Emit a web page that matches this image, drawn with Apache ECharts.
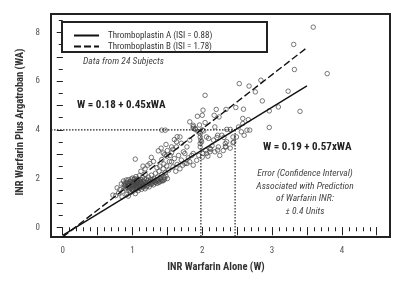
<!DOCTYPE html>
<html>
<head>
<meta charset="utf-8">
<script src="https://cdn.jsdelivr.net/npm/echarts@6/dist/echarts.min.js"></script>
<style>
  html, body { margin: 0; padding: 0; background: #fff; }
  #chart { width: 400px; height: 285px; }
</style>
</head>
<body>
<div id="chart"></div>
<script>
// scatter: [INR warfarin alone (W), INR warfarin plus argatroban (WA)]
var points = [
  [3.59,8.22],[3.31,7.51],[3.32,6.48],[3.79,6.31],[2.53,5.90],[2.67,5.80],[2.84,6.04],[2.76,5.56],
  [3.23,5.59],[3.09,4.94],[3.40,4.76],[2.96,4.78],[2.86,5.19],[2.04,5.42],[2.01,4.81],[1.93,4.56],
  [2.20,4.84],[2.34,4.84],[2.48,4.92],[2.59,4.85],[2.17,4.60],[2.24,4.53],[2.58,4.47],[2.66,4.42],
  [2.00,4.60],[2.58,4.26],[2.18,4.12],[2.35,4.02],[2.40,4.02],[2.64,3.99],[2.68,3.99],[2.56,3.92],
  [2.96,4.10],[2.49,3.71],[2.60,3.78],[2.31,3.69],[2.21,3.69],[2.44,3.47],[2.33,3.31],[2.12,3.20],
  [2.22,3.17],[2.06,3.03],[1.87,4.13],[1.90,4.02],[1.64,3.72],[1.47,3.99],[1.42,3.99],[1.04,2.80],
  [1.54,2.95],
  [0.78,1.62],[0.82,1.55],[0.84,1.78],[0.86,1.48],[0.88,1.66],[0.87,1.90],[0.90,1.58],[0.90,1.72],
  [0.92,1.35],[0.92,1.85],[0.93,1.62],[0.94,1.95],[0.95,1.52],[0.95,1.70],[0.96,1.80],[0.97,1.42],
  [0.97,1.62],[0.98,1.88],[0.99,1.55],[0.99,1.74],[1.00,1.66],[1.00,2.02],[1.01,1.48],[1.01,1.82],
  [1.02,1.60],[1.02,1.95],[1.03,1.72],[1.04,1.38],[1.04,1.88],[1.05,1.55],[1.05,2.08],[1.06,1.68],
  [1.06,1.80],[1.07,1.62],[1.07,1.98],[1.08,1.50],[1.08,1.90],[1.09,1.74],[1.10,1.60],[1.10,2.12],
  [1.11,1.85],[1.12,1.68],[1.12,1.96],[1.13,1.56],[1.14,1.78],[1.14,2.05],[1.15,1.64],[1.16,1.90],
  [1.17,1.72],[1.18,2.18],[1.18,1.58],[1.19,1.84],[1.20,1.98],[1.21,1.70],[1.22,1.80],[1.23,2.06],
  [1.24,1.66],[1.25,1.88],[1.26,1.76],[1.27,2.14],[1.28,1.84],[1.29,1.96],[1.30,1.74],[1.31,2.00],
  [1.32,1.86],[1.33,2.22],[1.34,1.92],[1.35,1.80],[1.36,2.06],[1.37,1.95],[1.38,2.30],[1.39,1.88],
  [1.40,2.02],[1.41,1.96],[1.42,2.16],[1.43,1.90],[1.44,2.40],[1.45,2.05],[1.46,1.98],[1.47,2.24],
  [1.48,2.10],[1.49,2.52],[1.50,2.00],[0.80,1.40],[0.76,1.30],[0.85,1.25],[0.94,1.28],[0.72,1.32],
  [0.88,1.74],[0.89,1.82],[0.91,1.66],[0.91,1.94],[0.93,1.78],[0.94,1.70],[0.96,1.60],[0.96,1.88],
  [0.98,1.76],[0.98,1.98],[1.00,1.84],[1.00,1.58],[1.02,1.76],[1.03,1.86],[1.03,2.00],[1.05,1.64],
  [1.05,1.74],[1.06,1.92],[1.07,1.84],[1.08,1.70],[1.09,1.96],[1.10,1.80],[1.11,1.66],[1.12,1.88],
  [1.13,1.80],[1.15,1.86],[1.16,1.70],[1.17,1.98],[1.19,1.76],[1.20,1.66],[1.22,1.92],[1.24,1.84],
  [1.26,1.96],[1.28,1.78],[1.30,1.90],[1.33,1.84],[1.36,1.90],[1.38,1.84],[1.42,1.92],[1.45,1.94],
  [1.12,2.30],[1.18,2.40],[1.22,2.55],[1.25,2.62],[1.27,2.87],[1.15,2.51],[1.30,2.70],[1.35,2.45],
  [1.37,3.14],[1.39,2.51],[1.42,2.78],[1.45,2.60],[1.49,2.92],[1.52,2.35],[1.53,2.70],[1.56,3.06],
  [1.56,2.69],[1.58,2.48],[1.60,2.82],[1.62,2.30],[1.63,3.30],[1.64,2.58],[1.66,2.95],[1.68,2.40],
  [1.70,2.76],[1.72,2.55],[1.73,3.10],[1.75,2.62],[1.75,3.03],[1.78,3.30],[1.78,2.62],[1.80,2.85],
  [1.82,2.69],[1.82,3.58],[1.85,2.95],[1.87,2.55],[1.87,3.03],[1.68,3.71],[1.63,3.51],[1.70,3.45],
  [1.56,3.30],[1.60,3.60],[1.58,3.20],[1.50,3.15],[1.46,2.98],[1.44,3.05],[1.48,3.40],[1.41,3.25],
  [1.87,4.19],[1.90,4.05],[1.97,3.85],[1.98,3.58],[1.97,3.44],[1.94,3.92],[1.97,3.71],[1.99,3.51],
  [1.82,4.33],[1.87,4.06],[2.01,3.03],[1.97,3.30],[2.11,3.24],[2.18,3.10],[2.35,3.51],[2.09,3.65],
  [2.28,3.78],[2.11,3.10],[2.23,3.30],[2.44,3.71],[2.52,4.12],[1.92,2.75],[1.95,2.95],[2.00,2.88],
  [2.05,3.15],[2.08,2.92],[2.14,3.35],[2.25,2.95],[2.30,3.15],[2.40,3.25],[2.06,3.71],[2.22,3.78],
  [2.16,3.58],[2.33,3.44],[2.45,3.50],[2.34,3.30],[2.00,4.00],[2.02,3.96],[1.96,4.20],[2.04,4.30]
];

// regression fits: W = a + b * WA
var fitA = [0.19, 0.57];
var fitB = [0.18, 0.45];
var fitRangeW = [0, 3.5];
var refWA = 4;

var legendNames = ['Thromboplastin A (ISI = 0.88)', 'Thromboplastin B (ISI = 1.78)'];
var xLabelValues = [0, 1, 2, 3, 4];
var yLabelValues = [0, 2, 4, 6, 8];

var xMin = -0.168, xMax = 4.69;
var yMin = -0.4, yMax = 8.76;

var xMinorTicks = [], xMajorTicks = [], yMinorTicks = [], yMajorTicks = [];
for (var i = 0; i <= 45; i++) { xMinorTicks.push(i / 10); }
for (var i = 0; i <= 9; i++) { xMajorTicks.push(i / 2); }
for (var i = 0; i <= 8; i++) { yMajorTicks.push(i); }
for (var i = 0; i <= 17; i++) { yMinorTicks.push(i / 2); }

function fitLine(fit) {
  return fitRangeW.map(function (w) { return [w, (w - fit[0]) / fit[1]]; });
}

var wAtRefB = fitB[0] + fitB[1] * refWA;
var wAtRefA = fitA[0] + fitA[1] * refWA;

var narrow = '"Liberation Sans Narrow", "Arial Narrow", "Roboto Condensed", Arial, sans-serif';
var ink = '#222';

var chart = echarts.init(document.getElementById('chart'), null, { renderer: 'canvas' });

function tickAxis(values, len, labels, isX) {
  return {
    type: 'value',
    min: isX ? xMin : yMin,
    max: isX ? xMax : yMax,
    position: isX ? 'bottom' : 'left',
    axisLine: { show: false },
    splitLine: { show: false },
    axisTick: { show: true, length: len, customValues: values, lineStyle: { color: ink, width: 1 } },
    axisLabel: labels ? {
      show: true, customValues: labels, color: '#555', fontSize: 9, fontFamily: narrow,
      margin: isX ? 9 : 11
    } : { show: false }
  };
}

var dotted = { color: ink, width: 1.2, type: [1.5, 1.5] };

chart.setOption({
  animation: false,
  grid: { left: 51, top: 14, width: 339, height: 223, show: true, borderColor: ink, borderWidth: 2, backgroundColor: 'transparent' },
  xAxis: [tickAxis(xMinorTicks, 4, null, true), tickAxis(xMajorTicks, 8, xLabelValues, true)],
  yAxis: [tickAxis(yMinorTicks, 4, null, false), tickAxis(yMajorTicks, 6, yLabelValues, false)],
  legend: {
    left: 68, top: 26, orient: 'vertical', itemWidth: 25, itemHeight: 8, itemGap: 2,
    data: legendNames,
    itemStyle: { opacity: 0 },
    textStyle: { color: '#333', fontSize: 9, fontFamily: narrow, padding: [0, 0, 0, 4] }
  },
  graphic: [
    { type: 'rect', shape: { x: 62, y: 22, width: 205, height: 30 }, style: { fill: 'none', stroke: ink, lineWidth: 2 } },
    { type: 'text', x: 20, y: 122, rotation: Math.PI / 2,
      style: { text: 'INR Warfarin Plus Argatroban (WA)', x: 0, y: 0, textAlign: 'center', textVerticalAlign: 'middle',
        fill: '#333', font: 'bold 10.5px ' + narrow } },
    { type: 'text', style: { text: 'INR Warfarin Alone (W)', x: 216, y: 267, textAlign: 'center', textVerticalAlign: 'middle',
        fill: '#333', font: 'bold 10.5px ' + narrow } },
    { type: 'text', style: { text: 'Data from 24 Subjects', x: 83, y: 62, textVerticalAlign: 'middle',
        fill: '#444', font: 'italic 9.5px ' + narrow } },
    { type: 'text', style: { text: 'W = 0.18 + 0.45xWA', x: 77, y: 105, textVerticalAlign: 'middle',
        fill: ink, font: 'bold 11px ' + narrow } },
    { type: 'text', style: { text: 'W = 0.19 + 0.57xWA', x: 263, y: 147, textVerticalAlign: 'middle',
        fill: ink, font: 'bold 11px ' + narrow } },
    { type: 'text', style: { text: 'Error (Confidence Interval)\nAssociated with Prediction\nof Warfarin INR:\n\u00b1 0.4 Units',
        x: 305, y: 167, textAlign: 'center', lineHeight: 12.8,
        fill: '#444', font: 'italic 9.5px ' + narrow } }
  ],
  series: [
    {
      type: 'scatter', xAxisIndex: 0, yAxisIndex: 0, data: points, symbol: 'circle', symbolSize: 4.5,
      itemStyle: { color: 'rgba(255,255,255,0)', borderColor: '#444', borderWidth: 0.9 }, silent: true
    },
    {
      name: legendNames[0], type: 'line', xAxisIndex: 0, yAxisIndex: 0, data: fitLine(fitA), symbol: 'none',
      clip: true, lineStyle: { color: '#111', width: 1.4, type: 'solid' }, itemStyle: { color: '#111' }, z: 5
    },
    {
      name: legendNames[1], type: 'line', xAxisIndex: 0, yAxisIndex: 0, data: fitLine(fitB), symbol: 'none',
      clip: true, lineStyle: { color: '#111', width: 1.4, type: [7, 3] }, itemStyle: { color: '#111' }, z: 5
    },
    {
      type: 'line', xAxisIndex: 0, yAxisIndex: 0, symbol: 'none', lineStyle: dotted, z: 4,
      data: [[xMin, refWA], [wAtRefA, refWA]]
    },
    {
      type: 'line', xAxisIndex: 0, yAxisIndex: 0, symbol: 'none', lineStyle: dotted, z: 4,
      data: [[wAtRefB, refWA], [wAtRefB, yMin]]
    },
    {
      type: 'line', xAxisIndex: 0, yAxisIndex: 0, symbol: 'none', lineStyle: dotted, z: 4,
      data: [[wAtRefA, refWA], [wAtRefA, yMin]]
    }
  ]
});
</script>
</body>
</html>
